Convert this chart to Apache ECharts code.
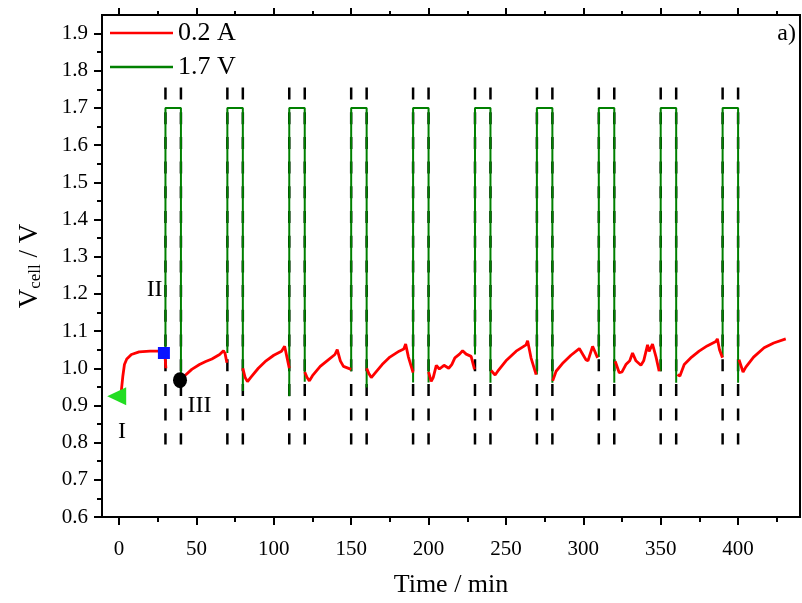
<!DOCTYPE html>
<html>
<head>
<meta charset="utf-8">
<script src="https://cdn.jsdelivr.net/npm/echarts@6/dist/echarts.min.js"></script>
<style>
  html, body { margin: 0; padding: 0; background: #fff; }
  #chart { width: 802px; height: 603px; }
</style>
</head>
<body>
<div id="chart"></div>
<script>
// galvanostatic 0.2 A segments (null = break between segments)
var redTime = [
  1.5, 2.5, 3.5, 5, 8, 13, 20, 27, 29.5, 30.3, null,
  40, 43, 47, 52, 56, 60, 65, 67.5, 68.5, 69.7, null,
  80, 81.5, 83, 85, 90, 95, 100, 105, 107, 108.5, 110, null,
  120, 121.5, 123, 125, 130, 135, 139.5, 141, 143, 145, 150, null,
  160, 161.5, 163, 165, 170, 175, 181, 184, 185.2, 187, 190, null,
  200, 201.7, 203, 205, 207, 210, 213, 215, 217, 220, 222, 224.3, 227.5, 229.7, null,
  240.4, 243, 244.7, 250, 256.6, 263, 264, 266.2, 269.5, null,
  280.2, 282.4, 287, 292, 297.4, 301.7, 303, 306, 309.2, null,
  320.6, 323.2, 325, 327.5, 330, 331.8, 334, 337.2, 339, 341.5, 342.5, 344.7, 347, 349, null,
  360.8, 362.4, 365.2, 370, 374.8, 380, 385.6, 386.6, 388, 389.9, null,
  400.6, 403.2, 405, 410, 416.8, 423, 430.8
];
var redVolt = [
  0.94, 0.98, 1.01, 1.025, 1.037, 1.044, 1.046, 1.046, 1.043, 1.0, null,
  0.966, 0.982, 0.997, 1.01, 1.018, 1.025, 1.037, 1.047, 1.04, 1.015, null,
  1.0, 0.975, 0.964, 0.975, 1.0, 1.02, 1.035, 1.046, 1.059, 1.03, 1.0, null,
  0.99, 0.975, 0.966, 0.98, 1.005, 1.022, 1.037, 1.05, 1.02, 1.005, 0.997, null,
  1.0, 0.985, 0.975, 0.985, 1.01, 1.03, 1.046, 1.052, 1.065, 1.03, 0.988, null,
  0.99, 0.965, 0.975, 1.008, 0.998, 1.008, 1.0, 1.01, 1.028, 1.038, 1.047, 1.038, 1.032, 0.997, null,
  0.994, 0.982, 0.992, 1.02, 1.046, 1.063, 1.074, 1.028, 0.983, null,
  0.966, 0.992, 1.015, 1.035, 1.053, 1.023, 1.02, 1.059, 1.028, null,
  1.019, 0.988, 0.99, 1.01, 1.02, 1.041, 1.02, 1.008, 1.02, 1.063, 1.045, 1.065, 1.03, 0.992, null,
  0.983, 0.979, 1.01, 1.03, 1.046, 1.06, 1.072, 1.079, 1.05, 1.028, null,
  1.023, 0.99, 1.003, 1.03, 1.055, 1.068, 1.079
];

// potentiostatic 1.7 V pulses
var pulseStart = [30, 70, 110, 150, 190, 230, 270, 310, 350, 390];
var pulseEnd = [40, 80, 120, 160, 200, 240, 280, 320, 360, 400];
var pulseHigh = 1.7;
var pulseLowStart = [1.04, 1.041, 0.925, 0.992, 0.962, 1.037, 0.983, 1.03, 0.992, 1.03];
var pulseLowEnd = [0.966, 0.939, 0.964, 0.948, 0.962, 0.961, 0.961, 0.961, 0.961, 0.961];

// dashed guide lines at pulse boundaries
var guideBottom = 0.795;
var guideTop = 1.755;

// points I, II, III
var markerNames = ['I', 'II', 'III'];
var markerTime = [-1.5, 29, 39.4];
var markerVolt = [0.925, 1.041, 0.968];
var labelTime = [2, 23, 52];
var labelVolt = [0.83, 1.21, 0.9];

var xMajor = [0, 50, 100, 150, 200, 250, 300, 350, 400];
var xMinor = [25, 75, 125, 175, 225, 275, 325, 375, 425];
var yMajor = [0.6, 0.7, 0.8, 0.9, 1.0, 1.1, 1.2, 1.3, 1.4, 1.5, 1.6, 1.7, 1.8, 1.9];
var yMinor = [0.65, 0.75, 0.85, 0.95, 1.05, 1.15, 1.25, 1.35, 1.45, 1.55, 1.65, 1.75, 1.85];

var FONT = 'Liberation Serif';

var redData = redTime.map(function (t, i) {
  return t === null ? ['-', '-'] : [t, redVolt[i]];
});

var greenData = [];
pulseStart.forEach(function (s, i) {
  var e = pulseEnd[i];
  greenData.push([s, pulseLowStart[i]], [s, pulseHigh], [e, pulseHigh], [e, pulseLowEnd[i]], ['-', '-']);
});

var guideData = [];
pulseStart.concat(pulseEnd).forEach(function (t) {
  guideData.push([t, guideTop], [t, guideBottom], ['-', '-']);
});

var markerSymbols = ['triangle', 'rect', 'circle'];
var markerColors = ['#22dd22', '#0a14ff', '#000000'];
var markerSizes = [[18, 19], [12, 12], [14, 16]];
var markerRotate = [90, 0, 0];
var markerData = markerNames.map(function (n, i) {
  return {
    value: [markerTime[i], markerVolt[i]],
    symbol: markerSymbols[i],
    symbolSize: markerSizes[i],
    symbolRotate: markerRotate[i],
    itemStyle: { color: markerColors[i], opacity: 1 }
  };
});
var labelData = markerNames.map(function (n, i) {
  return { name: n, value: [labelTime[i], labelVolt[i]] };
});

var dom = document.getElementById('chart');
var myChart = echarts.init(dom, null, { renderer: 'canvas' });

function tickAxis(pos, values, len, labels) {
  return {
    type: 'value',
    position: pos,
    min: -11,
    max: 440,
    axisLine: { show: true, onZero: false, lineStyle: { color: '#000', width: 2 } },
    splitLine: { show: false },
    axisTick: { show: true, customValues: values, length: len, lineStyle: { color: '#000', width: 2 } },
    axisLabel: labels ? {
      show: true, customValues: values, margin: 22,
      color: '#000', fontSize: 21, fontFamily: FONT
    } : { show: false }
  };
}

function yTickAxis(pos, values, len, labels) {
  return {
    type: 'value',
    position: pos,
    min: 0.6,
    max: 1.95,
    axisLine: { show: true, onZero: false, lineStyle: { color: '#000', width: 2 } },
    splitLine: { show: false },
    axisTick: { show: true, customValues: values, length: len, lineStyle: { color: '#000', width: 2 } },
    axisLabel: labels ? {
      show: true, customValues: values, margin: 14,
      color: '#000', fontSize: 21, fontFamily: FONT,
      padding: [4, 0, 0, 0],
      formatter: function (v) { return v.toFixed(1); }
    } : { show: false }
  };
}

var xMain = tickAxis('bottom', xMajor, 8, true);
xMain.name = 'Time / min';
xMain.nameLocation = 'middle';
xMain.nameGap = 55;
xMain.nameTextStyle = { color: '#000', fontSize: 26, fontFamily: FONT };

var yMain = yTickAxis('left', yMajor, 8, true);
yMain.name = '{a|V}{b|cell}{a| / V}';
yMain.nameLocation = 'middle';
yMain.nameGap = 58;
yMain.nameTextStyle = {
  color: '#000',
  rich: {
    a: { fontSize: 27, fontFamily: FONT, color: '#000' },
    b: { fontSize: 17, fontFamily: FONT, color: '#000', padding: [12, 0, 0, 0] }
  }
};

var option = {
  animation: false,
  grid: {
    left: 102, right: 2, top: 15, bottom: 83,
    show: true, borderColor: '#000', borderWidth: 2, backgroundColor: 'transparent'
  },
  legend: {
    data: [
      { name: '0.2 A', icon: 'rect' },
      { name: '1.7 V', icon: 'rect' }
    ],
    orient: 'vertical',
    left: 110,
    top: 20,
    padding: 0,
    itemWidth: 63,
    itemHeight: 2.5,
    itemGap: 8,
    textStyle: { color: '#000', fontSize: 26, fontFamily: FONT }
  },
  graphic: [{
    type: 'text',
    right: 6,
    top: 22,
    style: { text: 'a)', fill: '#000', font: '24px "Liberation Serif"' }
  }],
  xAxis: [
    xMain,
    tickAxis('bottom', xMinor, 5, false),
    tickAxis('top', xMajor, 7, false),
    tickAxis('top', xMinor, 4, false)
  ],
  yAxis: [
    yMain,
    yTickAxis('left', yMinor, 5, false)
  ],
  series: [
    {
      name: 'guides',
      type: 'line',
      data: guideData,
      symbol: 'none',
      silent: true,
      z: 1,
      lineStyle: { color: '#000', width: 2.5, type: [12, 12.7] }
    },
    {
      name: '1.7 V',
      type: 'line',
      data: greenData,
      symbol: 'none',
      z: 2,
      itemStyle: { color: '#008000' },
      lineStyle: { color: '#008000', width: 2 }
    },
    {
      name: '0.2 A',
      type: 'line',
      data: redData,
      symbol: 'none',
      z: 3,
      itemStyle: { color: '#ff0000' },
      lineStyle: { color: '#ff0000', width: 2.8 }
    },
    {
      name: 'points',
      type: 'scatter',
      data: markerData,
      z: 4,
      silent: true
    },
    {
      name: 'labels',
      type: 'scatter',
      data: labelData,
      symbolSize: 0,
      silent: true,
      itemStyle: { opacity: 1 },
      label: {
        show: true,
        position: 'inside',
        formatter: '{b}',
        color: '#000',
        fontSize: 24,
        fontFamily: FONT
      }
    }
  ]
};

if (option && typeof option === 'object') {
  myChart.setOption(option);
}

window.addEventListener('resize', myChart.resize);
</script>
</body>
</html>
